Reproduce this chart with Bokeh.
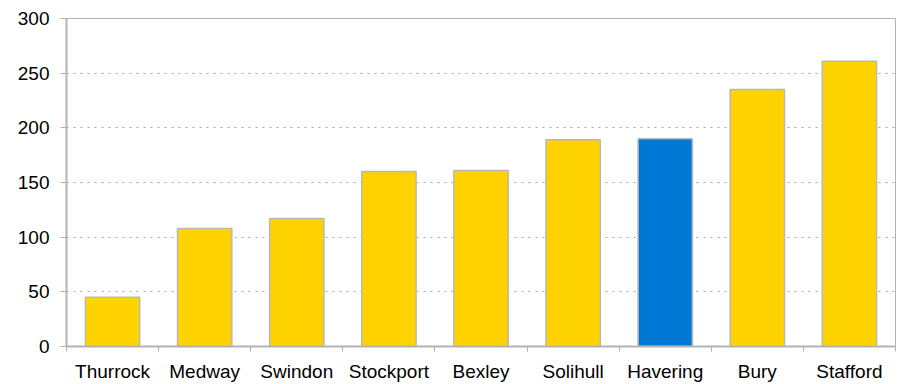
import numpy as np
from bokeh.plotting import figure
from bokeh.models import ColumnDataSource, FixedTicker, Range1d
from bokeh.embed import file_html
from bokeh.resources import INLINE

categories = ["Thurrock", "Medway", "Swindon", "Stockport", "Bexley",
              "Solihull", "Havering", "Bury", "Stafford"]
values = [45, 108, 117, 160, 161, 189, 190, 235, 261]
highlight = "Havering"
y_ticks = [0, 50, 100, 150, 200, 250, 300]

YELLOW = "#FFD300"
BLUE = "#0079D6"

n = len(categories)
xs = np.arange(n) + 0.5
colors = [BLUE if c == highlight else YELLOW for c in categories]
src = ColumnDataSource(dict(x=xs, top=values, color=colors, name=categories))

p = figure(width=903, height=384, output_backend="svg", toolbar_location=None,
           x_range=Range1d(0, n), y_range=Range1d(0, 300),
           min_border_left=66, min_border_right=8, min_border_top=18,
           min_border_bottom=37)

p.vbar(x="x", top="top", width=0.59, bottom=0, source=src,
       fill_color="color", line_color="#b8b8b8", line_width=1.5)

FONT = "Liberation Sans"
FS = "19px"

# x axis
p.xaxis.ticker = FixedTicker(ticks=list(xs), minor_ticks=list(range(n + 1)))
p.xaxis.major_label_overrides = {float(x): c for x, c in zip(xs, categories)}
p.xaxis.major_tick_out = 0
p.xaxis.major_tick_in = 0
p.xaxis.minor_tick_out = 5
p.xaxis.minor_tick_in = 0
p.xaxis.minor_tick_line_color = "#b3b3b3"
p.xaxis.axis_line_color = "#b3b3b3"
p.xaxis.axis_line_width = 2
p.xaxis.major_label_standoff = 9
p.xaxis.major_label_text_font = FONT
p.xaxis.major_label_text_font_size = FS
p.xaxis.major_label_text_color = "#000000"

# y axis
p.yaxis.ticker = FixedTicker(ticks=y_ticks)
p.yaxis.minor_tick_line_color = None
p.yaxis.major_tick_out = 6
p.yaxis.major_tick_in = 0
p.yaxis.major_tick_line_color = "#b3b3b3"
p.yaxis.axis_line_color = "#b3b3b3"
p.yaxis.axis_line_width = 2
p.yaxis.major_label_standoff = 11
p.yaxis.major_label_text_font = FONT
p.yaxis.major_label_text_font_size = FS
p.yaxis.major_label_text_color = "#000000"

p.xgrid.grid_line_color = None
p.ygrid.grid_line_color = "#a6a6a6"
p.ygrid.grid_line_dash = "2 5"
p.ygrid.grid_line_width = 1

p.outline_line_color = "#b3b3b3"
p.outline_line_width = 1
p.background_fill_color = "white"
p.border_fill_color = "white"

open("out.html", "w").write(file_html(p, INLINE))
